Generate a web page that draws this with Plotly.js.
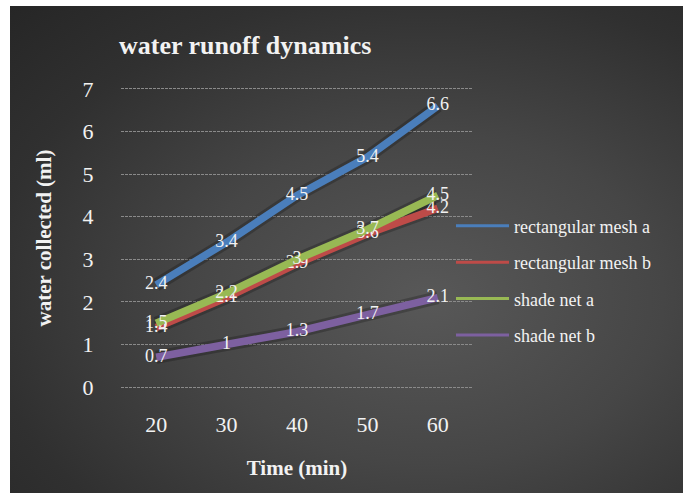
<!DOCTYPE html>
<html>
<head>
<meta charset="utf-8">
<script src="https://cdn.plot.ly/plotly-3.0.1.min.js"></script>
<style>
  html, body { margin: 0; padding: 0; background: #ffffff; }
  #wrap { position: relative; width: 688px; height: 495px; }
  #bg { position: absolute; left: 10px; top: 6px; width: 673px; height: 487px;
        background: radial-gradient(ellipse at 62% 60%, #585858 0%, #464646 40%, #303030 75%, #262626 100%); }
  #chart { position: absolute; left: 0; top: 0; width: 688px; height: 495px; }
</style>
</head>
<body>
<div id="wrap"><div id="bg"></div><div id="chart"></div></div>
<script>
// ---- data ----
const timeLabels = ['20', '30', '40', '50', '60'];
const rectangularMeshA = [2.4, 3.4, 4.5, 5.4, 6.6];
const rectangularMeshB = [1.4, 2.1, 2.9, 3.6, 4.2];
const shadeNetA = [1.5, 2.2, 3, 3.7, 4.5];
const shadeNetB = [0.7, 1, 1.3, 1.7, 2.1];
const seriesNames = ['rectangular mesh a', 'rectangular mesh b', 'shade net a', 'shade net b'];
const seriesColors = ['#4A7EBB', '#BE4B48', '#98B954', '#7D60A0'];
const yTicks = [0, 1, 2, 3, 4, 5, 6, 7];

const seriesValues = [rectangularMeshA, rectangularMeshB, shadeNetA, shadeNetB];
const font = 'Liberation Serif, Times New Roman, serif';
const white = '#f2f2f2';

const traces = [];
// soft dark halo under each line (shadow effect)
seriesValues.forEach((vals, i) => {
  traces.push({
    type: 'scatter', mode: 'lines', x: timeLabels, y: vals,
    line: { color: 'rgba(0,0,0,0.22)', width: 13 },
    showlegend: false, hoverinfo: 'skip'
  });
});
seriesValues.forEach((vals, i) => {
  traces.push({
    type: 'scatter', mode: 'lines+text',
    x: timeLabels, y: vals,
    text: vals.map(v => String(v)),
    textposition: 'middle center',
    textfont: { family: font, size: 18, color: white },
    line: { color: seriesColors[i], width: 7.5 },
    name: seriesNames[i], showlegend: false, hoverinfo: 'skip', cliponaxis: false
  });
});
// legend entries with thinner sample lines
seriesValues.forEach((vals, i) => {
  traces.push({
    type: 'scatter', mode: 'lines',
    x: [null], y: [null],
    line: { color: seriesColors[i], width: 3 },
    name: seriesNames[i], showlegend: true, legendgroup: 'g' + i
  });
});

const layout = {
  width: 688, height: 495,
  paper_bgcolor: 'rgba(0,0,0,0)', plot_bgcolor: 'rgba(0,0,0,0)',
  margin: { l: 121, r: 215, t: 87, b: 106 },
  font: { family: font, color: white },
  title: {
    text: '<b>water runoff dynamics</b>',
    font: { family: font, size: 26, color: white },
    x: 0.173, xanchor: 'left', xref: 'container',
    y: 0.91, yanchor: 'middle', yref: 'container'
  },
  xaxis: {
    type: 'category', range: [-0.5, 4.5],
    showgrid: false, zeroline: false, showline: false,
    ticks: 'outside', ticklen: 16, tickcolor: 'rgba(0,0,0,0)',
    tickfont: { family: font, size: 22, color: white },
    title: { text: '<b>Time (min)</b>', font: { family: font, size: 21, color: white }, standoff: 23 }
  },
  yaxis: {
    range: [-0.045, 7.045], tickvals: yTicks,
    showgrid: true, gridcolor: '#8a8a8a', gridwidth: 1, griddash: '3px,1px',
    zeroline: false, showline: false,
    ticks: 'outside', ticklen: 22, tickcolor: 'rgba(0,0,0,0)',
    tickfont: { family: font, size: 22, color: white },
    title: { text: '<b>water collected (ml)</b>', font: { family: font, size: 21, color: white }, standoff: 25 }
  },
  legend: {
    x: 0.9375, xanchor: 'left', y: 0.359, yanchor: 'middle',
    bgcolor: 'rgba(0,0,0,0)', borderwidth: 0,
    font: { family: font, size: 18, color: white },
    itemwidth: 53, tracegroupgap: 10
  },
  showlegend: true
};

Plotly.newPlot('chart', traces, layout, { displayModeBar: false, staticPlot: true });
</script>
</body>
</html>
